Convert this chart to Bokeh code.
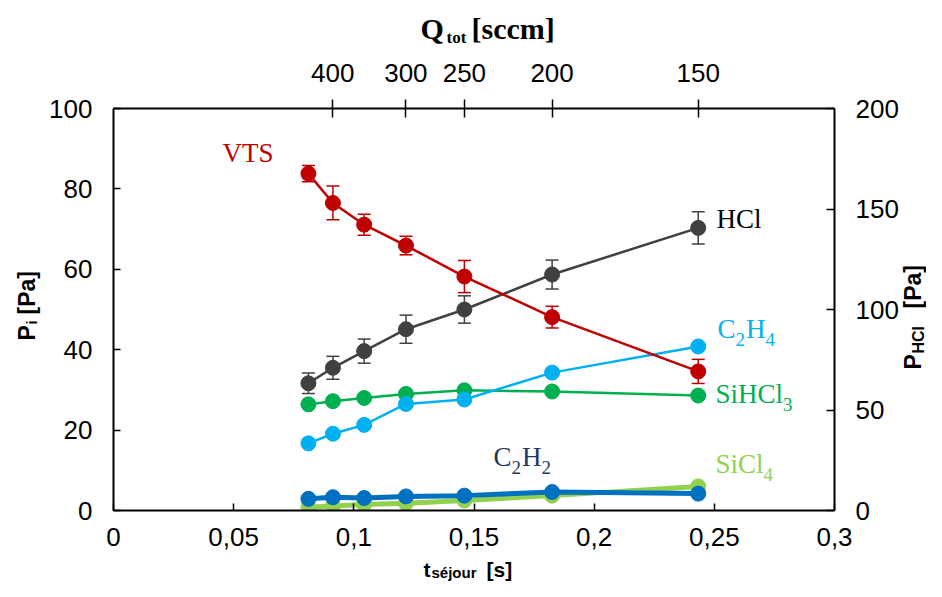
import math
from bokeh.plotting import figure
from bokeh.layouts import column, row
from bokeh.models import (Range1d, LinearAxis, FixedTicker, ColumnDataSource,
                          Whisker, TeeHead, Label)
from bokeh.embed import file_html
from bokeh.resources import INLINE

# ---------------- data ----------------
t_sejour = [0.0811, 0.0913, 0.1043, 0.1217, 0.146, 0.1825, 0.2433]   # s
Q_ticks = [400, 300, 250, 200, 150]                                    # sccm
K_tQ = 36.5                                                            # t * Q

vts = [83.8, 76.5, 71.1, 65.9, 58.2, 48.1, 34.6]
vts_err = [2.0, 4.2, 2.6, 2.3, 4.0, 2.7, 3.0]
hcl = [63.3, 71.0, 79.3, 90.2, 100.0, 117.4, 140.6]
hcl_err = [5.1, 5.7, 6.0, 7.0, 6.8, 7.2, 8.0]
c2h4 = [16.7, 19.1, 21.3, 26.5, 27.6, 34.3, 40.8]
sihcl3 = [26.4, 27.2, 28.0, 29.0, 29.9, 29.6, 28.6]
c2h2 = [2.9, 3.3, 3.1, 3.5, 3.7, 4.6, 4.2]
sicl4 = [0.8, 1.1, 1.5, 1.8, 2.5, 3.7, 6.0]

x_ticks = [0, 0.05, 0.1, 0.15, 0.2, 0.25, 0.3]
x_tick_labels = ["0", "0,05", "0,1", "0,15", "0,2", "0,25", "0,3"]
y_ticks = [0, 20, 40, 60, 80, 100]
y2_ticks = [0, 50, 100, 150, 200]

# ---------------- layout geometry (page px) ----------------
SANS = "Liberation Sans"
SERIF = "Liberation Serif"
W, H = 926, 581
FX0, FX1, FY0, FY1 = 113, 835, 510, 108   # frame edges
TH, BH, LW, RW = 50, 24, 44, 25           # title strips
MW, MH = W - LW - RW, H - TH - BH
SIDE_FIX = TH - 1                          # origin of the side strips' frames


def blank(w, h):
    f = figure(width=w, height=h, output_backend="svg", toolbar_location=None,
               x_axis_location=None, y_axis_location=None, min_border=0,
               min_border_left=0, min_border_right=0, min_border_top=0,
               min_border_bottom=0, x_range=Range1d(0, 1), y_range=Range1d(0, 1))
    f.xgrid.visible = False
    f.ygrid.visible = False
    f.outline_line_color = None
    f.background_fill_color = "white"
    f.border_fill_color = "white"
    return f


p = figure(width=MW, height=MH, output_backend="svg", toolbar_location=None,
           x_range=Range1d(0, 0.3), y_range=Range1d(0, 100),
           min_border_left=FX0 - LW, min_border_right=(LW + MW) - FX1,
           min_border_top=FY1 - TH, min_border_bottom=(TH + MH) - FY0,
           x_axis_location=None, y_axis_location=None)
p.extra_y_ranges = {"hcl": Range1d(0, 200)}
p.xgrid.visible = False
p.ygrid.visible = False
p.outline_line_color = None
p.background_fill_color = "white"
p.border_fill_color = "white"


def style_axis(ax, tin, tout, standoff):
    ax.major_tick_in = tin
    ax.major_tick_out = tout
    ax.minor_tick_line_color = None
    ax.axis_line_width = 2
    ax.axis_line_color = "black"
    ax.major_tick_line_width = 1.5
    ax.major_tick_line_color = "black"
    ax.major_label_text_font = SANS
    ax.major_label_text_font_size = "26px"
    ax.major_label_text_color = "black"
    ax.major_label_standoff = standoff


left = LinearAxis(ticker=FixedTicker(ticks=y_ticks))
style_axis(left, 7, 0, 21)
p.add_layout(left, "left")

right = LinearAxis(y_range_name="hcl", ticker=FixedTicker(ticks=y2_ticks))
style_axis(right, 8, 0, 21)
p.add_layout(right, "right")

bottom = LinearAxis(ticker=FixedTicker(ticks=x_ticks),
                    major_label_overrides={t: l for t, l in zip(x_ticks, x_tick_labels)})
style_axis(bottom, 7, 0, 17)
p.add_layout(bottom, "below")

top_pos = [K_tQ / q for q in Q_ticks]
top = LinearAxis(ticker=FixedTicker(ticks=top_pos),
                 major_label_overrides={t: str(q) for t, q in zip(top_pos, Q_ticks)})
style_axis(top, 9, 9, 18)
p.add_layout(top, "above")

# ---------------- series ----------------
def series(y, color, lw, size, rng="default"):
    kw = {} if rng == "default" else {"y_range_name": rng}
    p.line(t_sejour, y, line_color=color, line_width=lw, **kw)
    p.scatter(t_sejour, y, size=size, marker="circle", fill_color=color,
              line_color=color, **kw)


def errors(y, err, color, rng="default"):
    src = ColumnDataSource(dict(x=t_sejour,
                                lo=[a - b for a, b in zip(y, err)],
                                hi=[a + b for a, b in zip(y, err)]))
    kw = {} if rng == "default" else {"y_range_name": rng}
    w = Whisker(source=src, base="x", lower="lo", upper="hi", dimension="height",
                line_color=color, line_width=1.5,
                upper_head=TeeHead(size=13, line_color=color, line_width=1.5),
                lower_head=TeeHead(size=13, line_color=color, line_width=1.5), **kw)
    p.add_layout(w)


series(sicl4, "#92D050", 5, 15)
series(c2h2, "#0070C0", 5, 15)
series(sihcl3, "#00B050", 2.5, 15)
series(c2h4, "#00B0F0", 2.5, 15)
errors(hcl, hcl_err, "#404040", "hcl")
series(hcl, "#404040", 2.5, 15, "hcl")
errors(vts, vts_err, "#C00000")
series(vts, "#C00000", 2.5, 15)

# ---------------- text helpers ----------------
def txt(fig, ox, oy, s, px, py, size, color="black", font=SERIF, style="normal",
        angle=0):
    # (ox, oy): page position of the bottom-left corner of fig's frame;
    # (px, py): page position of the start of the text, vertically centred
    fig.add_layout(Label(text=s, x=px - ox, y=oy - py, x_units="screen",
                         y_units="screen", text_font=font,
                         text_font_size=f"{size}px", text_color=color,
                         text_font_style=style, angle=angle, text_align="left",
                         text_baseline="middle"))


def mtxt(*a, **k):
    txt(p, FX0, FY0, *a, **k)


SERIF_W = {"C": 0.667, "H": 0.722, "S": 0.556, "i": 0.278, "l": 0.278,
           "2": 0.5, "3": 0.5, "4": 0.5}


def chem(parts, px, py, color, size=27, sub=19, drop=11):
    x = px
    for s, is_sub in parts:
        fs = sub if is_sub else size
        mtxt(s, x, py + (drop if is_sub else 0), fs, color)
        x += sum(SERIF_W.get(ch, 0.6) for ch in s) * fs + (1 if is_sub else 0)


# series labels
mtxt("VTS", 222, 152, 27, "#C00000")
mtxt("HCl", 716, 218, 27, "black")
chem([("C", 0), ("2", 1), ("H", 0), ("4", 1)], 717, 328, "#00B0F0")
chem([("SiHCl", 0), ("3", 1)], 715, 393, "#00B050")
chem([("C", 0), ("2", 1), ("H", 0), ("2", 1)], 493, 456, "#1F3864")
chem([("SiCl", 0), ("4", 1)], 715, 463, "#92D050")

# ---------------- axis titles in surrounding strips ----------------
ftop = blank(W, TH)
ot = (0, TH)
txt(ftop, *ot, "Q", 420, 28, 30, style="bold")
txt(ftop, *ot, "tot", 446, 37, 17, style="bold")
txt(ftop, *ot, "[sccm]", 471, 28, 30, style="bold")

fbot = blank(W, BH)
ob = (0, H)
txt(fbot, *ob, "t", 423, 569, 21, font=SANS, style="bold")
txt(fbot, *ob, "séjour", 431, 572, 15, font=SANS, style="bold")
txt(fbot, *ob, "[s]", 486, 569, 21, font=SANS, style="bold")

A = math.pi / 2
fleft = blank(LW, MH)
ol = (0, TH + MH - SIDE_FIX)
txt(fleft, *ol, "P", 26, 338, 23, font=SANS, style="bold", angle=A)
txt(fleft, *ol, "i", 31, 322, 15, font=SANS, style="bold", angle=A)
txt(fleft, *ol, "[Pa]", 26, 312, 23, font=SANS, style="bold", angle=A)

fright = blank(RW, MH)
orr = (LW + MW, TH + MH - SIDE_FIX)
txt(fright, *orr, "P", 912, 367, 23, font=SANS, style="bold", angle=A)
txt(fright, *orr, "HCl", 918, 351, 16, font=SANS, style="bold", angle=A)
txt(fright, *orr, "[Pa]", 912, 306, 23, font=SANS, style="bold", angle=A)

layout = column(ftop, row(fleft, p, fright), fbot)
open("out.html", "w").write(file_html(layout, INLINE))
